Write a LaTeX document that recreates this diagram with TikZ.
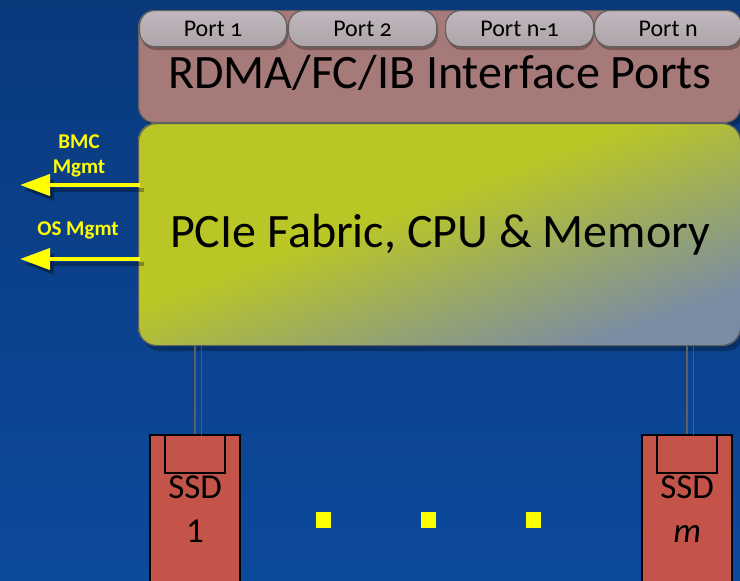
\documentclass[tikz,border=0pt]{standalone}
\usepackage{fontspec}
\setmainfont{Carlito}
\usetikzlibrary{arrows.meta,calc}

\definecolor{bgtop}{RGB}{10,57,124}
\definecolor{bgbot}{RGB}{12,74,156}
\definecolor{rose}{RGB}{166,122,120}
\definecolor{pillTop}{RGB}{192,184,190}
\definecolor{pillBot}{RGB}{174,164,170}
\definecolor{edge}{RGB}{96,96,96}
\definecolor{pcieY}{RGB}{186,198,38}
\definecolor{pcieG}{RGB}{122,140,164}
\definecolor{ssdred}{RGB}{196,84,74}
\definecolor{mgmt}{RGB}{255,255,0}

% diagonal yellow-green to grey-blue fill of the PCIe block
\pgfdeclarehorizontalshading{pciegrad}{100bp}{color(0bp)=(pcieY); color(44bp)=(pcieY); color(77bp)=(pcieG); color(100bp)=(pcieG)}

\begin{document}
\begin{tikzpicture}[x=1pt,y=-1pt,
  bigbox/.style={draw=edge,line width=1.2pt,anchor=north west,inner sep=0pt},
  boxshade/.style={fill=black,opacity=0.28},
  portpill/.style={draw=edge,line width=1.2pt,rounded corners=15pt,top color=pillTop,bottom color=pillBot,
    minimum height=36pt,inner sep=0pt,text height=15pt,text depth=0pt,
    font=\fontsize{24}{28}\selectfont\addfontfeatures{Numbers=OldStyle}},
  bigtext/.style={anchor=base,inner sep=0pt,font=\fontsize{48}{54}\selectfont},
  ssdbox/.style={draw=black,line width=2.2pt,fill=ssdred,anchor=north west,minimum width=90pt,minimum height=170pt,inner sep=0pt},
  ssdslot/.style={draw=black,line width=1.6pt,fill=ssdred,anchor=north,minimum width=60pt,minimum height=38pt,inner sep=0pt},
  ssdtext/.style={anchor=base,inner sep=0pt,font=\fontsize{35}{40}\selectfont},
  conn/.style={draw=edge,line width=1.3pt},
  connshade/.style={draw=gray,line width=1pt,opacity=0.45},
  mgmtarrow/.style={draw=mgmt,line width=4pt,-{Triangle[length=30pt,width=21pt]}},
  mgmtshade/.style={draw=black,line width=4pt,opacity=0.3,-{Triangle[length=30pt,width=21pt]}},
  mgmtlabel/.style={anchor=base,inner sep=0pt,text=mgmt,align=center,font=\bfseries\fontsize{21}{25}\selectfont},
  dot/.style={fill=mgmt,draw=none,minimum width=15pt,minimum height=16pt,inner sep=0pt}]

% page and background
\shade[top color=bgtop,bottom color=bgbot] (0,0) rectangle (740,581);
\useasboundingbox (0,0) rectangle (740,581);
\clip (0,0) rectangle (740,581);

% soft drop shadows of the two blocks
\fill[boxshade,rounded corners=16pt] (142,15) rectangle (744,127);
\fill[boxshade,rounded corners=18pt] (142,128) rectangle (744,351);

% interface block
\node[bigbox,fill=rose,rounded corners=16pt,minimum width=602pt,minimum height=112pt] (rdma) at (138,10) {};
\node[bigtext] (rdmatext) at (440,88) {RDMA/FC/IB Interface Ports};

% ports
\fill[boxshade,rounded corners=15pt] (141,13) rectangle (288,50);
\fill[boxshade,rounded corners=15pt] (291,13) rectangle (438,50);
\fill[boxshade,rounded corners=15pt] (447,13) rectangle (594,50);
\fill[boxshade,rounded corners=15pt] (596,13) rectangle (744,50);
\node[portpill,minimum width=147pt,anchor=north west] (p1) at (139,10) {Port 1};
\node[portpill,minimum width=148pt,anchor=north west] (p2) at (288,10) {Port 2};
\node[portpill,minimum width=148pt,anchor=north west] (pn1) at (445,10) {Port n-1};
\node[portpill,minimum width=147pt,anchor=north west] (pn) at (594,10) {Port n};

% PCIe fabric block: gradient laid out on a unit square, stretched to the block
\begin{scope}
  \clip[rounded corners=18pt] (138,123) rectangle (740,345);
  \shade[shading=pciegrad,shading angle=-45,
         transform canvas={shift={(138,123)},xscale=6.02,yscale=2.22}] (0,0) rectangle (100,100);
\end{scope}
\node[bigbox,rounded corners=18pt,minimum width=602pt,minimum height=222pt] (pcie) at (138,123) {};
\node[bigtext] (pcietext) at (440,247) {PCIe Fabric, CPU \& Memory};

% management outputs
\coordinate (bmcend) at (20,185);
\coordinate (osend) at (20,259);
\draw[mgmtshade] ([xshift=6pt,yshift=-5pt]pcie.west |- bmcend) -- ([xshift=4pt,yshift=-5pt]bmcend);
\draw[mgmtshade] ([xshift=6pt,yshift=-5pt]pcie.west |- osend) -- ([xshift=4pt,yshift=-5pt]osend);
\draw[mgmtarrow] ([xshift=2pt]pcie.west |- bmcend) -- (bmcend);
\draw[mgmtarrow] ([xshift=2pt]pcie.west |- osend) -- (osend);
\node[mgmtlabel] (bmclabel) at (79,148) {BMC};
\node[mgmtlabel] (bmclabel2) at (79,173) {Mgmt};
\node[mgmtlabel] (oslabel) at (78,235) {OS Mgmt};

% SSDs
\node[ssdbox] (ssd1) at (149,434) {};
\node[ssdslot] (slot1) at (ssd1.north) {};
\node[ssdtext] (ssd1a) at ($(ssd1.north)+(0,64)$) {SSD};
\node[ssdtext] (ssd1b) at ($(ssd1.north)+(0,108)$) {1};

\node[ssdbox] (ssdm) at (641,434) {};
\node[ssdslot] (slotm) at (ssdm.north) {};
\node[ssdtext] (ssdma) at ($(ssdm.north)+(0,64)$) {SSD};
\node[ssdtext] (ssdmb) at ($(ssdm.north)+(0,108)$) {\itshape m};

% links from the fabric to the drives
\draw[connshade] ([xshift=6pt]ssd1.north |- pcie.south) -- ([xshift=6pt,yshift=-6pt]ssd1.north);
\draw[connshade] ([xshift=6pt]ssdm.north |- pcie.south) -- ([xshift=6pt,yshift=-6pt]ssdm.north);
\draw[conn] (ssd1.north |- pcie.south) -- (ssd1.north);
\draw[conn] (ssdm.north |- pcie.south) -- (ssdm.north);

% ellipsis between the drives
\node[dot] (d1) at (323.5,520) {};
\node[dot] (d2) at (428.5,520) {};
\node[dot] (d3) at (533.5,520) {};
\end{tikzpicture}
\end{document}
